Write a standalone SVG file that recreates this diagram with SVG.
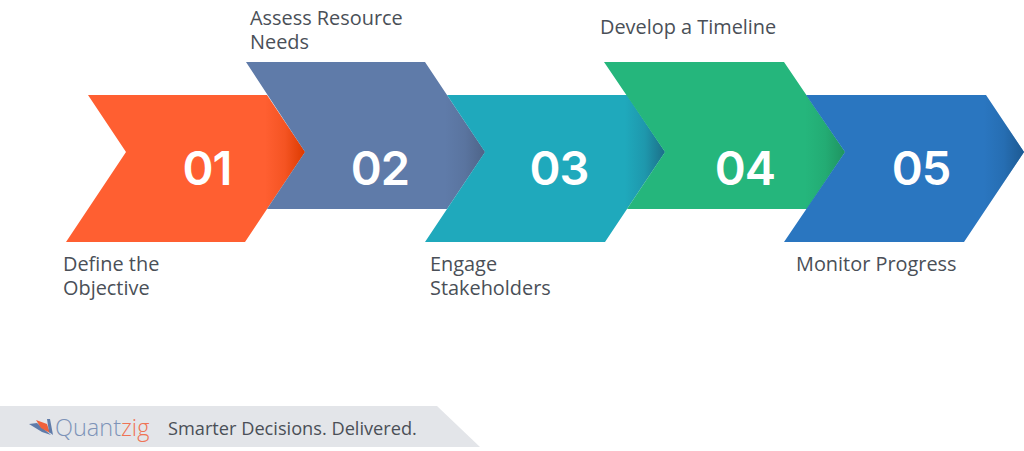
<svg xmlns="http://www.w3.org/2000/svg" width="1024" height="451" viewBox="0 0 1024 451">
<style>
.lbl{font-family:"Open Sans","Noto Sans",sans-serif;font-size:19.9px;fill:#4a4f57}
.num{font-family:Inter,"Liberation Sans",sans-serif;font-size:47px;font-weight:600;fill:#fff;text-anchor:middle;letter-spacing:-1px}
</style>
<defs>
<linearGradient id="g1" gradientUnits="userSpaceOnUse" x1="265" y1="0" x2="305" y2="0"><stop offset="0" stop-color="#dc3a00" stop-opacity="0"/><stop offset=".5" stop-color="#dc3a00" stop-opacity=".3"/><stop offset="1" stop-color="#dc3a00"/></linearGradient>
<linearGradient id="g2" gradientUnits="userSpaceOnUse" x1="445" y1="0" x2="485" y2="0"><stop offset="0" stop-color="#4e6488" stop-opacity="0"/><stop offset=".5" stop-color="#4e6488" stop-opacity=".3"/><stop offset="1" stop-color="#4e6488"/></linearGradient>
<linearGradient id="g3" gradientUnits="userSpaceOnUse" x1="625" y1="0" x2="665" y2="0"><stop offset="0" stop-color="#1c6f88" stop-opacity="0"/><stop offset=".5" stop-color="#1c6f88" stop-opacity=".3"/><stop offset="1" stop-color="#1c6f88"/></linearGradient>
<linearGradient id="g4" gradientUnits="userSpaceOnUse" x1="805" y1="0" x2="845" y2="0"><stop offset="0" stop-color="#1f9461" stop-opacity="0"/><stop offset=".5" stop-color="#1f9461" stop-opacity=".3"/><stop offset="1" stop-color="#1f9461"/></linearGradient>
<linearGradient id="g5" gradientUnits="userSpaceOnUse" x1="984" y1="0" x2="1024" y2="0"><stop offset="0" stop-color="#1d5a92" stop-opacity="0"/><stop offset=".5" stop-color="#1d5a92" stop-opacity=".3"/><stop offset="1" stop-color="#1d5a92"/></linearGradient>
</defs>
<rect width="1024" height="451" fill="#fff"/>
<g id="node-01">
<polygon points="88,95 267,95 305,152 245,242 66,242 126,152" fill="#ff5f31"/>
<polygon points="88,95 267,95 305,152 245,242 66,242 126,152" fill="url(#g1)"/>
<text class="num" x="207" y="185">01</text>
<text class="lbl" x="63" y="271">Define the<tspan x="63" dy="24">Objective</tspan></text>
</g>
<g id="node-02">
<polygon points="246,62 425,62 485,152 447,209 267,209 305,152" fill="#5f7ba9"/>
<polygon points="246,62 425,62 485,152 447,209 267,209 305,152" fill="url(#g2)"/>
<text class="num" x="380" y="185">02</text>
<text class="lbl" x="250" y="25">Assess Resource<tspan x="250" dy="24">Needs</tspan></text>
</g>
<g id="node-03">
<polygon points="447,95 627,95 665,152 605,242 425,242 485,152" fill="#1fa9bc"/>
<polygon points="447,95 627,95 665,152 605,242 425,242 485,152" fill="url(#g3)"/>
<text class="num" x="559" y="185">03</text>
<text class="lbl" x="430" y="271">Engage<tspan x="430" dy="24">Stakeholders</tspan></text>
</g>
<g id="node-04">
<polygon points="604,62 784,62 845,152 807,209 627,209 665,152" fill="#25b67c"/>
<polygon points="604,62 784,62 845,152 807,209 627,209 665,152" fill="url(#g4)"/>
<text class="num" x="745" y="185">04</text>
<text class="lbl" x="600" y="34">Develop a Timeline</text>
</g>
<g id="node-05">
<polygon points="806,95 986,95 1024,152 964,242 784,242 845,152" fill="#2a76c0"/>
<polygon points="806,95 986,95 1024,152 964,242 784,242 845,152" fill="url(#g5)"/>
<text class="num" x="921" y="185">05</text>
<text class="lbl" x="796" y="271">Monitor Progress</text>
</g>
<g id="connectors"></g>
<g id="footer">
<polygon points="0,406 437,406 480,447 0,447" fill="#e3e5e9"/>
<polygon points="29,424 37,423 51,435 42,432" fill="#5f7ba9"/>
<polygon points="36,420 47,424 50,433 41,428" fill="#f0603a"/>
<polygon points="47,419 50,419 53,435 49,432" fill="#5f7ba9"/>
<text x="55" y="436" font-family="'Open Sans','Noto Sans',sans-serif" font-size="23.5" fill="#7d93b8" font-weight="300">Quant<tspan fill="#ef7355">zig</tspan></text>
<text x="168" y="435" font-family="'Open Sans','Noto Sans',sans-serif" font-size="18.2" fill="#4a4f57">Smarter Decisions. Delivered.</text>
</g>
</svg>
